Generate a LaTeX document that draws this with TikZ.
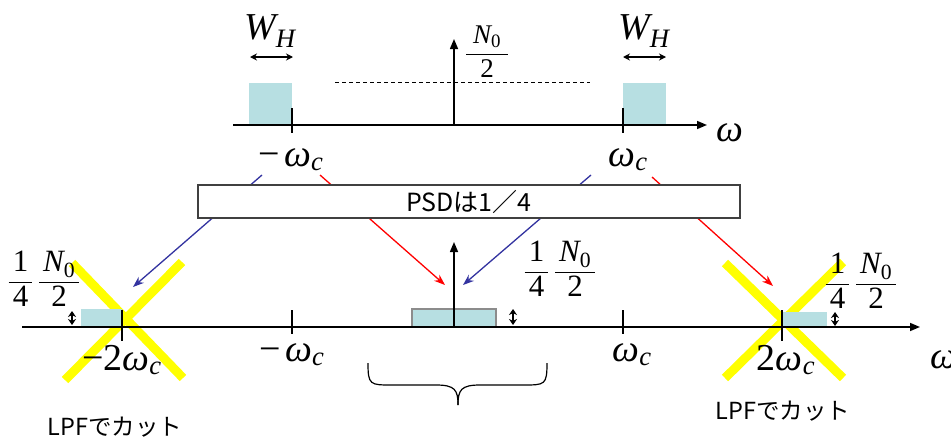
\documentclass[tikz,border=0pt]{standalone}
\usepackage{amsmath}
\usepackage{fontspec}
\setmainfont{Liberation Serif}
\newfontfamily\jp{Noto Sans CJK JP}
\usetikzlibrary{arrows.meta}
\definecolor{bandblue}{RGB}{183,223,226}
\definecolor{arrblue}{RGB}{51,51,160}
\definecolor{cutyellow}{RGB}{255,255,0}
\newcommand{\ti}[1]{\text{\itshape #1}}
\newcommand{\tu}[1]{\text{\upshape #1}}
\newcommand{\quarterfrac}{$\displaystyle\frac{\,\tu{1}\,}{\,\tu{4}\,}\,\frac{\,\ti{N}_{\tu{0}}\,}{\tu{2}}$}
\begin{document}
\begin{tikzpicture}[x=1pt,y=-1pt,
  axis/.style={line width=1.5pt,-{Triangle[length=10pt,width=8pt]}},
  tickmark/.style={line width=1.2pt},
  cutline/.style={draw=cutyellow,line width=9pt},
  bluearr/.style={draw=arrblue,line width=1.3pt,-{Stealth[length=11pt,width=8pt]}},
  redarr/.style={draw=red,line width=1.3pt,-{Stealth[length=11pt,width=8pt]}},
  widtharr/.style={line width=1.3pt,{Stealth[length=7pt,width=7pt]}-{Stealth[length=7pt,width=7pt]}},
  tinyarr/.style={line width=1.1pt,{Stealth[length=6pt,width=8pt]}-{Stealth[length=6pt,width=8pt]}},
  mathlbl/.style={font=\fontsize{38}{40}\selectfont,inner sep=0pt},
  fractop/.style={font=\fontsize{27}{30}\selectfont,inner sep=0pt},
  fraclbl/.style={font=\fontsize{31}{34}\selectfont,inner sep=0pt},
  jplbl/.style={font=\jp\fontsize{23.5}{26}\selectfont,inner sep=0pt},
]
\useasboundingbox (0,0) rectangle (951,442);

% yellow crosses
\draw[cutline] (72,263) -- (183,378);
\draw[cutline] (182,262) -- (65,380);
\draw[cutline] (725,263) -- (843,378);
\draw[cutline] (843,262) -- (725,378);

% top spectrum bands
\fill[bandblue] (249,83) rectangle (292,125);
\fill[bandblue] (623,83) rectangle (666,125);
\draw[dashed,line width=0.9pt,dash pattern=on 4pt off 3pt] (335,82) -- (590,82);

% top axis
\coordinate (ta0) at (233,125);
\coordinate (ta1) at (707,125);
\draw[axis] (ta0) -- (ta1);
\coordinate (tv0) at (454,125);
\coordinate (tv1) at (454,39);
\draw[axis] (tv0) -- (tv1);
\draw[tickmark] (292,108) -- (292,133);
\draw[tickmark] (623,108) -- (623,133);

% width arrows
\coordinate (wa0) at (250,57); \coordinate (wa1) at (293,57);
\draw[widtharr] (wa0) -- (wa1);
\coordinate (wb0) at (623,57); \coordinate (wb1) at (666,57);
\draw[widtharr] (wb0) -- (wb1);

\node[mathlbl] (wh1) at (270,31) {$\ti{W}_{\ti{H}}$};
\node[mathlbl] (wh2) at (644,31) {$\ti{W}_{\ti{H}}$};
\node[fractop] (ntop) at (487,52) {$\displaystyle\frac{\;\ti{N}_{\tu{0}}\;}{\tu{2}}$};
\node[mathlbl] (omt) at (730,133) {$\ti{ω}$};
\node[mathlbl] (mwct) at (291,160) {$\tu{−}\,\ti{ω}_{\ti{c}}$};
\node[mathlbl] (wct) at (628,160) {$\ti{ω}_{\ti{c}}$};

% coloured arrows (behind the box)
\coordinate (b1s) at (262,175); \coordinate (b1e) at (133,287);
\coordinate (r1s) at (320,175); \coordinate (r1e) at (445,285);
\coordinate (b2s) at (591,175); \coordinate (b2e) at (463,285);
\coordinate (r2s) at (652,177); \coordinate (r2e) at (773,286);
\draw[bluearr] (b1s) -- (b1e);
\draw[redarr] (r1s) -- (r1e);
\draw[bluearr] (b2s) -- (b2e);
\draw[redarr] (r2s) -- (r2e);

\node[draw=black!75,line width=1.2pt,fill=white,minimum width=542pt,minimum height=33pt,inner sep=0pt,font=\jp\fontsize{25}{28}\selectfont] (psd) at (469,201.5) {PSDは1／4};

% bottom bands
\fill[bandblue] (81,309) rectangle (122,327);
\fill[bandblue] (782,312) rectangle (827,327);
\filldraw[fill=bandblue,draw=black!45,line width=1.2pt] (412,309) rectangle (496,327);

% bottom axis
\coordinate (ba0) at (22,327);
\coordinate (ba1) at (920,327);
\draw[axis] (ba0) -- (ba1);
\coordinate (bv0) at (454,327);
\coordinate (bv1) at (454,242);
\draw[axis] (bv0) -- (bv1);
\draw[tickmark] (122,310) -- (122,341);
\draw[tickmark] (292,310) -- (292,334);
\draw[tickmark] (623,310) -- (623,334);
\draw[tickmark] (782,310) -- (782,341);

% tiny level arrows
\coordinate (la0) at (72,311); \coordinate (la1) at (72,325);
\draw[tinyarr] (la0) -- (la1);
\coordinate (lc0) at (513,309); \coordinate (lc1) at (513,325);
\draw[tinyarr] (lc0) -- (lc1);
\coordinate (lr0) at (835,312); \coordinate (lr1) at (835,326);
\draw[tinyarr] (lr0) -- (lr1);

% labels
\node[fraclbl] (fl) at (44,279) {\quarterfrac};
\node[fraclbl] (fc) at (560,269) {\quarterfrac};
\node[fraclbl] (fr) at (861,281) {\quarterfrac};
\node[mathlbl] (m2wc) at (122,360) {$\tu{−}\tu{2}\ti{ω}_{\ti{c}}$};
\node[mathlbl] (mwcb) at (292,355) {$\tu{−}\,\ti{ω}_{\ti{c}}$};
\node[mathlbl] (wcb) at (632,355) {$\ti{ω}_{\ti{c}}$};
\node[mathlbl] (p2wc) at (786,360) {$\tu{2}\ti{ω}_{\ti{c}}$};
\node[mathlbl] (omb) at (944,360) {$\ti{ω}$};

% brace
\draw[line width=1.2pt] (368,363) .. controls (368,385) and (370,385) .. (392,385)
  -- (436,385) .. controls (455,385) and (458,390) .. (458,405);
\draw[line width=1.2pt] (547,363) .. controls (547,385) and (545,385) .. (523,385)
  -- (480,385) .. controls (461,385) and (458,390) .. (458,405);

\node[jplbl] (lpf1) at (115,427) {LPFでカット};
\node[jplbl] (lpf2) at (783,411) {LPFでカット};
\end{tikzpicture}
\end{document}
